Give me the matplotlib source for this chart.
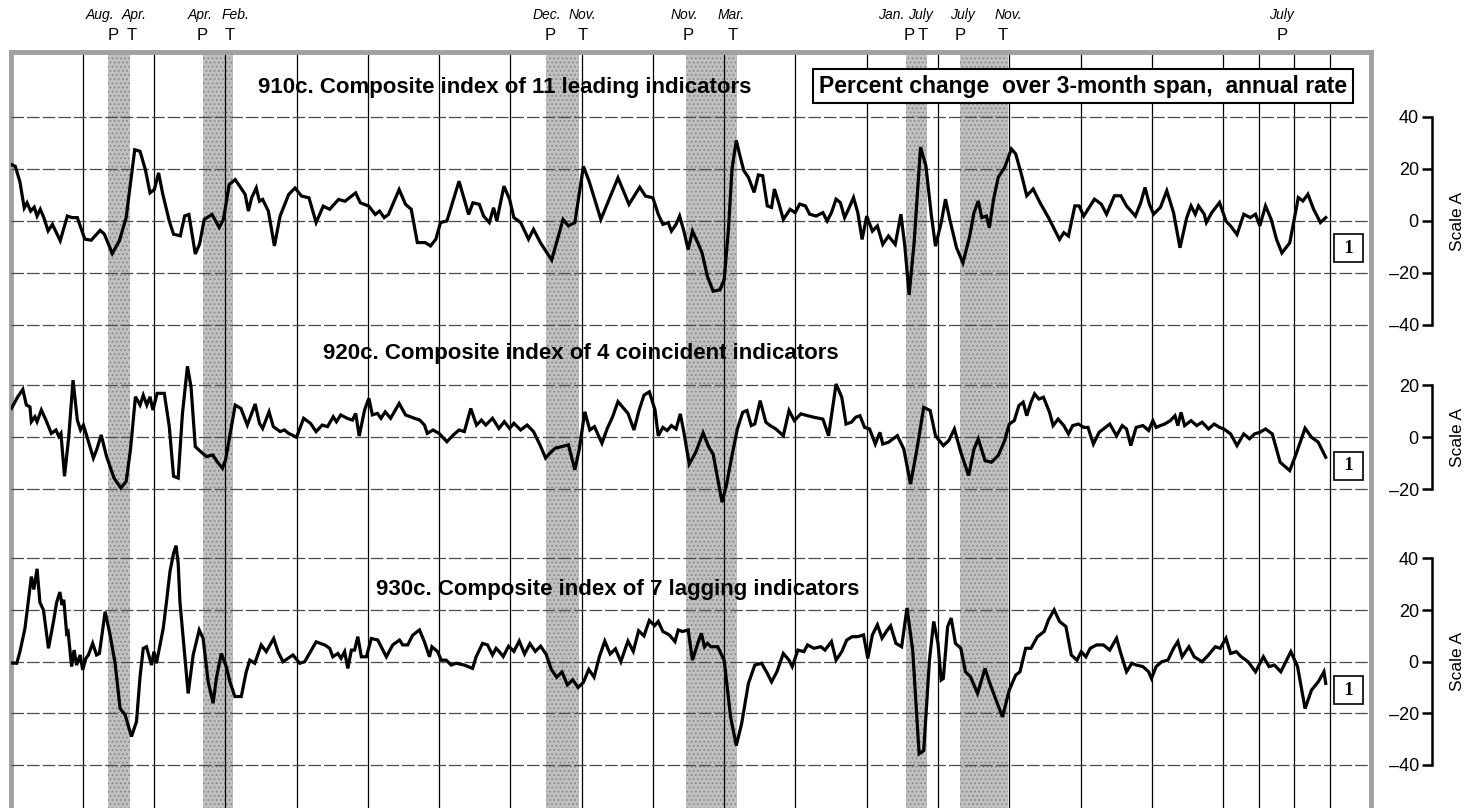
import matplotlib
matplotlib.use("Agg")
import matplotlib.pyplot as plt
import matplotlib.transforms as mtrans

plt.rcParams["font.family"] = ["Liberation Sans Narrow", "Liberation Sans", "DejaVu Sans"]

# --- business cycle turning points (shaded = recessions) ---
PEAK_DATES = [1957.70, 1960.37, 1970.00, 1973.94, 1980.11, 1981.61, 1990.60]
TROUGH_DATES = [1958.34, 1961.22, 1970.93, 1975.35, 1980.68, 1982.97]
TOP_MONTHS = ["Aug.", "Apr.", "Apr.", "Feb.", "Dec.", "Nov.", "Nov.", "Mar.",
              "Jan.", "July", "July", "Nov.", "July"]
TOP_MONTH_X = [1957.49, 1958.44, 1960.29, 1961.30, 1970.03, 1971.01, 1973.87, 1975.19,
               1979.70, 1980.52, 1981.70, 1982.97, 1990.65]
TOP_PT = ["P", "T", "P", "T", "P", "T", "P", "T", "P", "T", "P", "T", "P"]
TOP_PT_X = [1957.85, 1958.38, 1960.35, 1961.13, 1970.11, 1971.04, 1974.00, 1975.25,
            1980.20, 1980.58, 1981.61, 1982.82, 1990.65]

# --- 910c. leading index, % change over 3-month span, annual rate ---
LEAD_YR = [1955.00, 1955.11, 1955.24, 1955.36, 1955.44, 1955.54, 1955.64, 1955.72, 1955.81, 1955.91,
           1956.03, 1956.15, 1956.37, 1956.57, 1956.70, 1956.85, 1957.06, 1957.24, 1957.49, 1957.61,
           1957.83, 1958.03, 1958.22, 1958.46, 1958.61, 1958.76, 1958.89, 1959.01, 1959.13, 1959.25,
           1959.43, 1959.55, 1959.74, 1959.86, 1959.98, 1960.16, 1960.28, 1960.41, 1960.63, 1960.83,
           1960.95, 1961.11, 1961.28, 1961.44, 1961.56, 1961.65, 1961.74, 1961.87, 1961.96, 1962.05,
           1962.21, 1962.38, 1962.54, 1962.78, 1962.96, 1963.14, 1963.35, 1963.55, 1963.75, 1963.93,
           1964.18, 1964.36, 1964.48, 1964.66, 1964.79, 1965.03, 1965.21, 1965.33, 1965.46, 1965.58,
           1965.88, 1966.06, 1966.22, 1966.39, 1966.61, 1966.76, 1966.91, 1967.04, 1967.22, 1967.56,
           1967.83, 1967.95, 1968.13, 1968.25, 1968.41, 1968.53, 1968.62, 1968.82, 1968.98, 1969.10,
           1969.29, 1969.51, 1969.65, 1969.85, 1970.16, 1970.48, 1970.63, 1970.81, 1971.05, 1971.21,
           1971.54, 1972.02, 1972.33, 1972.63, 1972.79, 1973.00,
           1973.15, 1973.28, 1973.43, 1973.52, 1973.65, 1973.75, 1973.87, 1973.99, 1974.11, 1974.26,
           1974.38, 1974.53, 1974.69, 1974.88, 1975.00, 1975.12, 1975.22, 1975.34, 1975.43, 1975.55,
           1975.68, 1975.84, 1975.96, 1976.08, 1976.21, 1976.33, 1976.41, 1976.54, 1976.66, 1976.85,
           1976.99, 1977.12, 1977.28, 1977.40, 1977.58, 1977.77, 1977.89, 1978.01, 1978.14, 1978.26,
           1978.38, 1978.51, 1978.63, 1978.75, 1978.87, 1979.00, 1979.16, 1979.30, 1979.45, 1979.61,
           1979.80, 1979.96, 1980.07, 1980.19, 1980.33, 1980.51, 1980.66, 1980.81, 1980.93, 1981.09,
           1981.21, 1981.33, 1981.52, 1981.70, 1981.89, 1982.01, 1982.13, 1982.23, 1982.36, 1982.44,
           1982.56, 1982.69, 1982.87, 1983.06, 1983.18, 1983.34, 1983.49, 1983.67, 1983.86, 1984.10,
           1984.41, 1984.53, 1984.66, 1984.84, 1984.96, 1985.09, 1985.27, 1985.39, 1985.58, 1985.73,
           1985.95, 1986.13, 1986.29, 1986.54, 1986.69, 1986.81, 1986.93, 1987.05, 1987.24, 1987.42,
           1987.61, 1987.79, 1987.98, 1988.10, 1988.22, 1988.31, 1988.47, 1988.53, 1988.68, 1988.90,
           1989.08, 1989.21, 1989.39, 1989.58, 1989.76, 1989.91, 1990.03, 1990.19, 1990.35, 1990.50,
           1990.65, 1990.87, 1991.11, 1991.24, 1991.38, 1991.54, 1991.73, 1991.88]
LEAD_VAL = [21.7, 21.0, 15.0, 5.0, 7.0, 3.8, 5.3, 1.9, 4.5, 1.3,
            -3.8, -1.3, -7.6, 1.9, 1.3, 1.3, -7.0, -7.4, -3.6, -5.1,
            -12.5, -7.6, 1.3, 27.4, 26.8, 19.7, 10.8, 12.1, 18.5, 10.2,
            0.0, -5.1, -5.7, 1.9, 2.5, -12.7, -8.9, 0.6, 2.5, -2.5,
            0.6, 14.0, 15.9, 12.7, 10.2, 3.8, 8.9, 12.7, 7.6, 8.3,
            3.8, -9.6, 1.9, 10.2, 12.7, 9.6, 8.9, -0.6, 5.7, 4.5,
            8.3, 7.6, 8.9, 10.8, 7.0, 5.7, 2.5, 3.8, 1.3, 2.5,
            12.1, 6.4, 4.5, -8.3, -8.3, -9.6, -7.0, -0.6, 0.0, 15.3,
            2.5, 7.0, 6.4, 1.9, -0.6, 5.1, 0.0, 13.4, 8.3, 1.3,
            -0.6, -7.0, -3.2, -8.5, -15.0, 0.6, -1.9, -0.6, 21.0, 15.3,
            0.6, 16.6, 6.4, 13.0, 9.6, 8.9,
            2.6, -1.3, -0.6, -3.9, -1.3, 1.9, -3.9, -11.0, -3.9, -8.4,
            -12.3, -21.3, -27.0, -26.5, -22.6, -3.2, 20.0, 31.0, 25.8, 19.4,
            16.8, 11.0, 17.7, 17.4, 5.8, 5.2, 12.3, 6.5, 0.6, 4.5,
            3.2, 6.5, 5.8, 2.6, 1.9, 3.2, 0.0, 3.2, 8.4, 7.1,
            1.3, 5.2, 9.0, 3.2, -7.1, 1.9, -3.9, -1.9, -9.0, -5.8,
            -9.0, 2.6, -9.7, -28.4, -8.4, 28.4, 21.3, 2.6, -9.7, -0.6,
            8.4, 0.6, -10.3, -16.1, -5.8, 3.2, 7.7, 1.3, 1.9, -2.6,
            8.4, 16.8, 20.6, 27.7, 25.8, 18.0, 9.7, 12.3, 7.1, 1.3,
            -7.1, -4.5, -5.8, 5.8, 5.8, 1.9, 5.8, 8.4, 6.5, 2.6,
            9.7, 9.7, 5.8, 1.9, 7.1, 12.9, 6.5, 2.6, 5.2, 11.6,
            3.2, -10.3, 1.3, 5.8, 2.6, 5.8, 2.6, -0.6, 3.2, 7.1,
            0.0, -1.9, -5.2, 2.6, 1.3, 2.6, -1.9, 5.8, 0.6, -7.1,
            -12.3, -8.4, 9.0, 7.7, 10.3, 4.5, -0.6, 1.3]

# --- 920c. coincident index ---
COIN_YR = [1955.00, 1955.18, 1955.32, 1955.42, 1955.52, 1955.56, 1955.66, 1955.72, 1955.84, 1955.97,
           1956.12, 1956.25, 1956.33, 1956.39, 1956.49, 1956.61, 1956.73, 1956.85, 1956.94, 1957.02,
           1957.12, 1957.30, 1957.39, 1957.52, 1957.67, 1957.88, 1958.07, 1958.22, 1958.34, 1958.48,
           1958.61, 1958.70, 1958.80, 1958.89, 1958.97, 1959.09, 1959.29, 1959.43, 1959.55, 1959.68,
           1959.80, 1959.94, 1960.04, 1960.16, 1960.31, 1960.47, 1960.65, 1960.77, 1960.92, 1961.01,
           1961.14, 1961.28, 1961.44, 1961.62, 1961.84, 1961.96, 1962.05, 1962.23, 1962.35, 1962.54,
           1962.66, 1962.78, 1963.00, 1963.20, 1963.39, 1963.55, 1963.72, 1963.87, 1964.03, 1964.12,
           1964.24, 1964.42, 1964.57, 1964.66, 1964.76, 1964.91, 1965.03, 1965.13, 1965.27, 1965.37,
           1965.49, 1965.64, 1965.88, 1966.06, 1966.31, 1966.46, 1966.59, 1966.67, 1966.83, 1967.00,
           1967.22, 1967.40, 1967.56, 1967.71, 1967.89, 1968.05, 1968.19, 1968.31, 1968.50, 1968.68,
           1968.83, 1968.98, 1969.10, 1969.29, 1969.47, 1969.65, 1969.83, 1969.99, 1970.11, 1970.26,
           1970.44, 1970.63, 1970.81, 1970.93, 1971.09, 1971.23, 1971.36, 1971.57, 1971.72, 1971.87,
           1972.02, 1972.18, 1972.30, 1972.47, 1972.60, 1972.75, 1972.90, 1973.06,
           1973.15, 1973.28, 1973.40, 1973.52, 1973.65, 1973.77, 1973.87, 1974.02, 1974.20, 1974.41,
           1974.57, 1974.69, 1974.94, 1975.06, 1975.22, 1975.37, 1975.52, 1975.64, 1975.76, 1975.86,
           1976.01, 1976.17, 1976.29, 1976.45, 1976.66, 1976.82, 1976.97, 1977.15, 1977.34, 1977.52,
           1977.77, 1977.93, 1978.14, 1978.30, 1978.42, 1978.57, 1978.69, 1978.81, 1978.94, 1979.08,
           1979.24, 1979.37, 1979.45, 1979.61, 1979.86, 1980.04, 1980.23, 1980.41, 1980.60, 1980.78,
           1980.93, 1981.15, 1981.30, 1981.46, 1981.64, 1981.86, 1982.01, 1982.13, 1982.32, 1982.50,
           1982.69, 1982.87, 1983.00, 1983.14, 1983.27, 1983.39, 1983.49, 1983.61, 1983.71, 1983.83,
           1983.96, 1984.13, 1984.23, 1984.37, 1984.53, 1984.66, 1984.78, 1984.94, 1985.09, 1985.21,
           1985.36, 1985.52, 1985.64, 1985.82, 1986.01, 1986.17, 1986.29, 1986.41, 1986.56, 1986.75,
           1986.91, 1987.03, 1987.12, 1987.24, 1987.36, 1987.52, 1987.65, 1987.73, 1987.82, 1987.92,
           1988.10, 1988.26, 1988.41, 1988.59, 1988.75, 1988.90, 1989.02, 1989.21, 1989.39, 1989.58,
           1989.74, 1989.88, 1990.03, 1990.19, 1990.38, 1990.60, 1990.87, 1991.05, 1991.30, 1991.48,
           1991.67, 1991.88]
COIN_VAL = [11.1, 15.6, 18.4, 12.4, 11.7, 6.0, 7.9, 6.0, 10.5, 6.6,
            1.5, 2.8, 0.3, 1.5, -15.0, 0.3, 22.0, 6.6, 2.8, 4.7,
            0.3, -8.0, -4.9, 0.9, -7.4, -15.7, -19.5, -17.0, -4.9, 15.6,
            12.4, 16.2, 12.4, 15.6, 10.5, 16.9, 16.9, 4.1, -15.0, -15.7,
            9.2, 27.3, 19.4, -3.6, -5.5, -7.4, -6.8, -9.3, -11.9, -8.7,
            1.5, 12.4, 11.1, 4.7, 12.8, 5.4, 3.4, 9.8, 4.1, 2.2,
            2.8, 1.5, 0.0, 7.3, 5.4, 2.2, 4.7, 4.1, 7.9, 6.0,
            8.6, 7.3, 6.6, 9.2, 0.5, 10.5, 15.0, 8.6, 9.2, 7.3,
            9.8, 7.3, 13.0, 8.6, 7.3, 6.6, 4.7, 1.5, 2.8, 1.5,
            -1.7, 0.9, 2.8, 2.2, 11.1, 4.7, 6.6, 4.7, 7.3, 3.4,
            6.0, 3.4, 5.4, 2.8, 4.7, 2.2, -2.9, -8.0, -6.1, -4.2,
            -3.6, -2.9, -12.5, -4.9, 9.8, 2.8, 4.1, -2.3, 3.4, 7.9,
            13.7, 11.1, 9.2, 2.8, 9.8, 16.2, 17.5, 10.5,
            0.6, 3.8, 2.6, 4.5, 3.2, 9.0, 1.9, -10.3, -5.8, 1.7,
            -3.8, -6.4, -25.0, -18.6, -7.0, 3.2, 9.6, 10.3, 4.5, 5.1,
            14.1, 5.8, 4.5, 3.2, 0.6, 10.3, 6.4, 9.0, 8.3, 7.7,
            7.0, 0.6, 20.5, 15.4, 5.1, 5.8, 7.7, 8.3, 3.8, 3.2,
            -2.6, 1.9, -2.6, -1.9, 0.6, -4.5, -18.0, -4.5, 11.5, 10.3,
            0.6, -3.2, -1.3, 3.2, -5.8, -14.7, -4.5, -0.6, -9.0, -9.6,
            -7.0, -1.3, 5.1, 6.4, 12.2, 13.5, 8.3, 13.5, 16.7, 14.7,
            15.4, 9.6, 4.5, 7.0, 4.5, 1.3, 4.5, 5.1, 3.8, 3.8,
            -2.6, 1.9, 3.2, 5.1, 0.6, 4.5, 3.2, -3.2, 3.8, 4.5,
            2.6, 6.4, 3.8, 4.5, 5.1, 6.4, 8.3, 4.5, 9.6, 4.5,
            6.4, 4.5, 5.8, 3.2, 5.1, 3.8, 3.2, 1.3, -3.2, 1.3,
            -0.6, 1.3, 1.9, 3.2, 1.3, -9.6, -12.8, -6.4, 3.5, 0.0,
            -1.9, -7.7]

# --- 930c. lagging index ---
LAG_YR = [1955.00, 1955.15, 1955.24, 1955.38, 1955.47, 1955.56, 1955.63, 1955.72, 1955.80, 1955.90,
          1956.04, 1956.18, 1956.27, 1956.36, 1956.42, 1956.47, 1956.55, 1956.59, 1956.69, 1956.76,
          1956.83, 1956.93, 1957.00, 1957.09, 1957.16, 1957.28, 1957.39, 1957.47, 1957.63, 1957.77,
          1957.91, 1958.05, 1958.19, 1958.37, 1958.51, 1958.61, 1958.70, 1958.79, 1958.93, 1959.00,
          1959.07, 1959.26, 1959.35, 1959.45, 1959.55, 1959.62, 1959.68, 1959.73, 1959.96, 1960.10,
          1960.27, 1960.38, 1960.52, 1960.66, 1960.75, 1960.89, 1961.03, 1961.13, 1961.27, 1961.45,
          1961.59, 1961.69, 1961.83, 1962.01, 1962.15, 1962.36, 1962.48, 1962.62, 1962.90, 1963.09,
          1963.23, 1963.55, 1963.79, 1963.93, 1964.02, 1964.16, 1964.25, 1964.35, 1964.44, 1964.54,
          1964.63, 1964.72, 1964.82, 1964.96, 1965.10, 1965.28, 1965.52, 1965.70, 1965.89, 1965.98,
          1966.12, 1966.26, 1966.45, 1966.59, 1966.73, 1966.80, 1966.96, 1967.06, 1967.20, 1967.34,
          1967.48, 1967.71, 1967.94, 1968.04, 1968.22, 1968.36, 1968.50, 1968.60, 1968.69, 1968.80,
          1968.95, 1969.10, 1969.25, 1969.40, 1969.55, 1969.70, 1969.85, 1970.00, 1970.15, 1970.30,
          1970.45, 1970.60, 1970.75, 1970.90, 1971.05, 1971.20, 1971.35, 1971.50, 1971.65, 1971.80,
          1971.95, 1972.10, 1972.30, 1972.45, 1972.60, 1972.75, 1972.90, 1973.05,
          1973.15, 1973.28, 1973.46, 1973.62, 1973.71, 1973.83, 1973.99, 1974.11, 1974.26, 1974.36,
          1974.45, 1974.53, 1974.63, 1974.82, 1975.00, 1975.18, 1975.34, 1975.49, 1975.68, 1975.86,
          1976.05, 1976.21, 1976.33, 1976.48, 1976.66, 1976.82, 1976.91, 1977.07, 1977.24, 1977.34,
          1977.52, 1977.71, 1977.83, 1978.01, 1978.14, 1978.30, 1978.44, 1978.59, 1978.75, 1978.91,
          1979.03, 1979.16, 1979.30, 1979.43, 1979.55, 1979.67, 1979.82, 1979.98, 1980.13, 1980.29,
          1980.47, 1980.60, 1980.76, 1980.88, 1981.00, 1981.09, 1981.15, 1981.27, 1981.37, 1981.49,
          1981.64, 1981.77, 1981.91, 1982.11, 1982.32, 1982.44, 1982.63, 1982.81, 1983.00, 1983.18,
          1983.30, 1983.46, 1983.61, 1983.79, 1983.98, 1984.10, 1984.26, 1984.41, 1984.59, 1984.74,
          1984.90, 1985.02, 1985.15, 1985.27, 1985.45, 1985.64, 1985.82, 1986.01, 1986.13, 1986.29,
          1986.44, 1986.56, 1986.75, 1986.91, 1986.99, 1987.12, 1987.28, 1987.45, 1987.61, 1987.73,
          1987.85, 1988.04, 1988.19, 1988.41, 1988.59, 1988.78, 1988.92, 1989.08, 1989.21, 1989.37,
          1989.51, 1989.70, 1989.91, 1990.13, 1990.29, 1990.44, 1990.62, 1990.90, 1991.09, 1991.30,
          1991.48, 1991.67, 1991.83, 1991.88]
LAG_VAL = [-0.5, -0.6, 3.9, 12.9, 23.0, 33.0, 28.0, 36.0, 23.0, 20.0,
           5.2, 15.5, 23.0, 27.0, 22.0, 24.0, 11.0, 11.6, -1.9, 4.5,
           -1.3, 2.6, -3.2, 1.3, 2.6, 7.1, 2.6, 3.2, 19.4, 10.3,
           -0.6, -18.1, -20.6, -29.0, -23.2, -5.8, 5.2, 5.8, -1.3, 3.9,
           -0.6, 12.9, 23.0, 35.0, 42.0, 45.0, 38.0, 23.0, -12.3, 2.6,
           12.3, 9.0, -7.7, -16.1, -6.5, 3.2, -1.9, -7.7, -13.5, -13.5,
           -3.9, 0.6, -0.6, 6.5, 3.9, 9.0, 3.9, 0.0, 2.6, -0.6,
           0.0, 7.7, 6.5, 5.2, 1.9, 3.2, 1.3, 3.9, -2.6, 4.5,
           4.5, 9.7, 1.9, 1.9, 9.0, 8.4, 1.9, 6.5, 8.4, 6.5,
           6.5, 10.3, 12.3, 7.7, 1.9, 5.8, 3.9, 0.6, 0.6, -1.3,
           -0.6, -1.3, -2.6, 1.9, 7.1, 6.5, 2.6, 5.2, 3.9, 2.0,
           6.0, 4.0, 8.0, 3.0, 7.0, 4.0, 6.0, 3.0, -3.0, -6.0,
           -4.0, -9.0, -7.0, -10.0, -8.0, -3.0, -6.0, 2.0, 8.0, 3.0,
           5.0, 0.0, 8.0, 4.0, 12.0, 10.0, 16.0, 14.0,
           15.6, 11.7, 10.4, 7.8, 12.3, 11.7, 12.3, 0.6, 7.1, 11.0,
           5.8, 7.1, 5.8, 5.8, 0.6, -21.4, -32.5, -24.0, -8.4, -1.3,
           -0.6, -4.5, -7.8, -3.9, 3.2, 0.6, -1.9, 4.5, 3.9, 6.5,
           5.2, 5.8, 4.5, 7.8, 0.6, 3.9, 8.4, 9.7, 9.7, 10.4,
           1.3, 10.4, 14.3, 9.1, 11.7, 13.9, 7.1, 5.8, 20.8, 4.5,
           -35.7, -34.4, 0.6, 15.6, 7.1, -7.1, -6.5, 13.6, 16.9, 7.1,
           5.2, -3.9, -5.8, -12.3, -2.6, -7.8, -14.9, -21.4, -11.0, -5.2,
           -3.9, 5.2, 5.2, 9.7, 11.7, 16.2, 20.1, 15.6, 13.6, 2.6,
           0.6, 3.9, 1.9, 5.2, 6.5, 6.5, 4.5, 9.1, 3.2, -3.9,
           -0.6, -1.3, -1.9, -3.9, -6.5, -1.9, 0.0, 0.6, 5.2, 7.8,
           1.9, 5.8, 1.9, 0.0, 2.6, 5.8, 5.2, 9.1, 3.2, 3.9,
           1.9, 0.0, -3.9, 1.9, -1.9, -1.3, -3.9, 3.9, -1.9, -18.2,
           -11.0, -7.8, -3.9, -8.4]

TITLES = ["910c. Composite index of 11 leading indicators",
          "920c. Composite index of 4 coincident indicators",
          "930c. Composite index of 7 lagging indicators"]
SCALE_TICKS = [[-40, -20, 0, 20, 40], [-20, 0, 20], [-40, -20, 0, 20, 40]]
GRID_YEARS = list(range(1957, 1990, 2)) + [1990, 1991, 1992]

W, H = 1479, 808
X0, X1 = 1955.0, 1993.15
# y-limits put each panel's zero line where it sits in the stacked chart
PANEL_YLIM = [(-225.8, 65.0), (-142.6, 148.2), (-56.7, 236.3)]
TITLE_POS = [(1968.85, 51.2), (1970.99, 32.4), (1972.0, 27.8)]
ONE_Y = [-10.4, -11.0, -11.0]


def main() -> None:
    fig = plt.figure(figsize=(W / 100, H / 100), dpi=100)
    rect = [11.4 / W, 0.0, (1371 - 11.4) / W, (H - 52) / H]

    base = fig.add_axes(rect)
    base.set_xlim(X0, X1)
    base.set_ylim(0, 1)
    base.set_xticks([])
    base.set_yticks([])
    for s in ("left", "top", "right"):
        base.spines[s].set_color("#a0a0a0")
        base.spines[s].set_linewidth(3.5)
    base.spines["bottom"].set_visible(False)

    plt.rcParams["hatch.linewidth"] = 0.7
    for p, t in zip(PEAK_DATES, TROUGH_DATES):
        base.axvspan(p, t, facecolor="#c0c0c0", edgecolor="#858585", hatch="....", lw=0, zorder=0)
    for g in GRID_YEARS:
        base.axvline(g, color="black", lw=0.9, zorder=1)

    # labels above the frame
    top = mtrans.blended_transform_factory(base.transData, fig.transFigure)
    for lab, x in zip(TOP_MONTHS, TOP_MONTH_X):
        fig.text(x, 1 - 15 / H, lab, transform=top, ha="center", va="center",
                 fontsize=10, style="italic")
    for lab, x in zip(TOP_PT, TOP_PT_X):
        fig.text(x, 1 - 36 / H, lab, transform=top, ha="center", va="center", fontsize=12)

    series = [(LEAD_YR, LEAD_VAL), (COIN_YR, COIN_VAL), (LAG_YR, LAG_VAL)]
    panels = []
    for i, (xs, ys) in enumerate(series):
        ax = fig.add_axes(rect, label=f"panel{i}")
        panels.append(ax)
        ax.patch.set_visible(False)
        ax.set_xlim(X0, X1)
        ax.set_ylim(*PANEL_YLIM[i])
        ticks = SCALE_TICKS[i]
        for v in ticks:
            ax.axhline(v, color="#4a4a4a", lw=0.9, dashes=(10, 2.5), zorder=1)
        ax.plot(xs, ys, color="black", lw=2.3, solid_joinstyle="miter", zorder=3)

        ax.text(*TITLE_POS[i], TITLES[i], ha="center", va="center",
                fontsize=16, fontweight="bold", zorder=4)
        ax.text(1992.53, ONE_Y[i], " 1 ", ha="center", va="center",
                fontfamily=["Liberation Serif", "DejaVu Serif"], fontweight="bold", fontsize=13,
                bbox=dict(boxstyle="square,pad=0.3", fc="white", ec="black", lw=1.2), zorder=4)

        # right-hand bracket scale
        for s in ("top", "right", "bottom"):
            ax.spines[s].set_visible(False)
        ax.spines["left"].set_position(("axes", (1432 - 11.4) / (1371 - 11.4)))
        ax.spines["left"].set_bounds(ticks[0], ticks[-1])
        ax.spines["left"].set_linewidth(1.8)
        ax.set_xticks([])
        ax.set_yticks(ticks)
        ax.set_yticklabels([str(v).replace("-", "\u2013") for v in ticks])
        ax.tick_params(axis="y", direction="out", length=7.5, width=1.8, labelsize=13, pad=2)
        tr = mtrans.blended_transform_factory(ax.transAxes, ax.transData)
        ax.text((1457 - 11.4) / (1371 - 11.4), 0, "Scale A", transform=tr, rotation=90,
                ha="center", va="center", fontsize=12.5)

    panels[0].text(1985.07, 51.9, "Percent change  over 3-month span,  annual rate", ha="center",
                   va="center", fontsize=16.5, fontweight="bold", zorder=4,
                   bbox=dict(boxstyle="square,pad=0.25", fc="white", ec="black", lw=1.5))

    fig.savefig("out.png", dpi=100)


if __name__ == "__main__":
    main()
